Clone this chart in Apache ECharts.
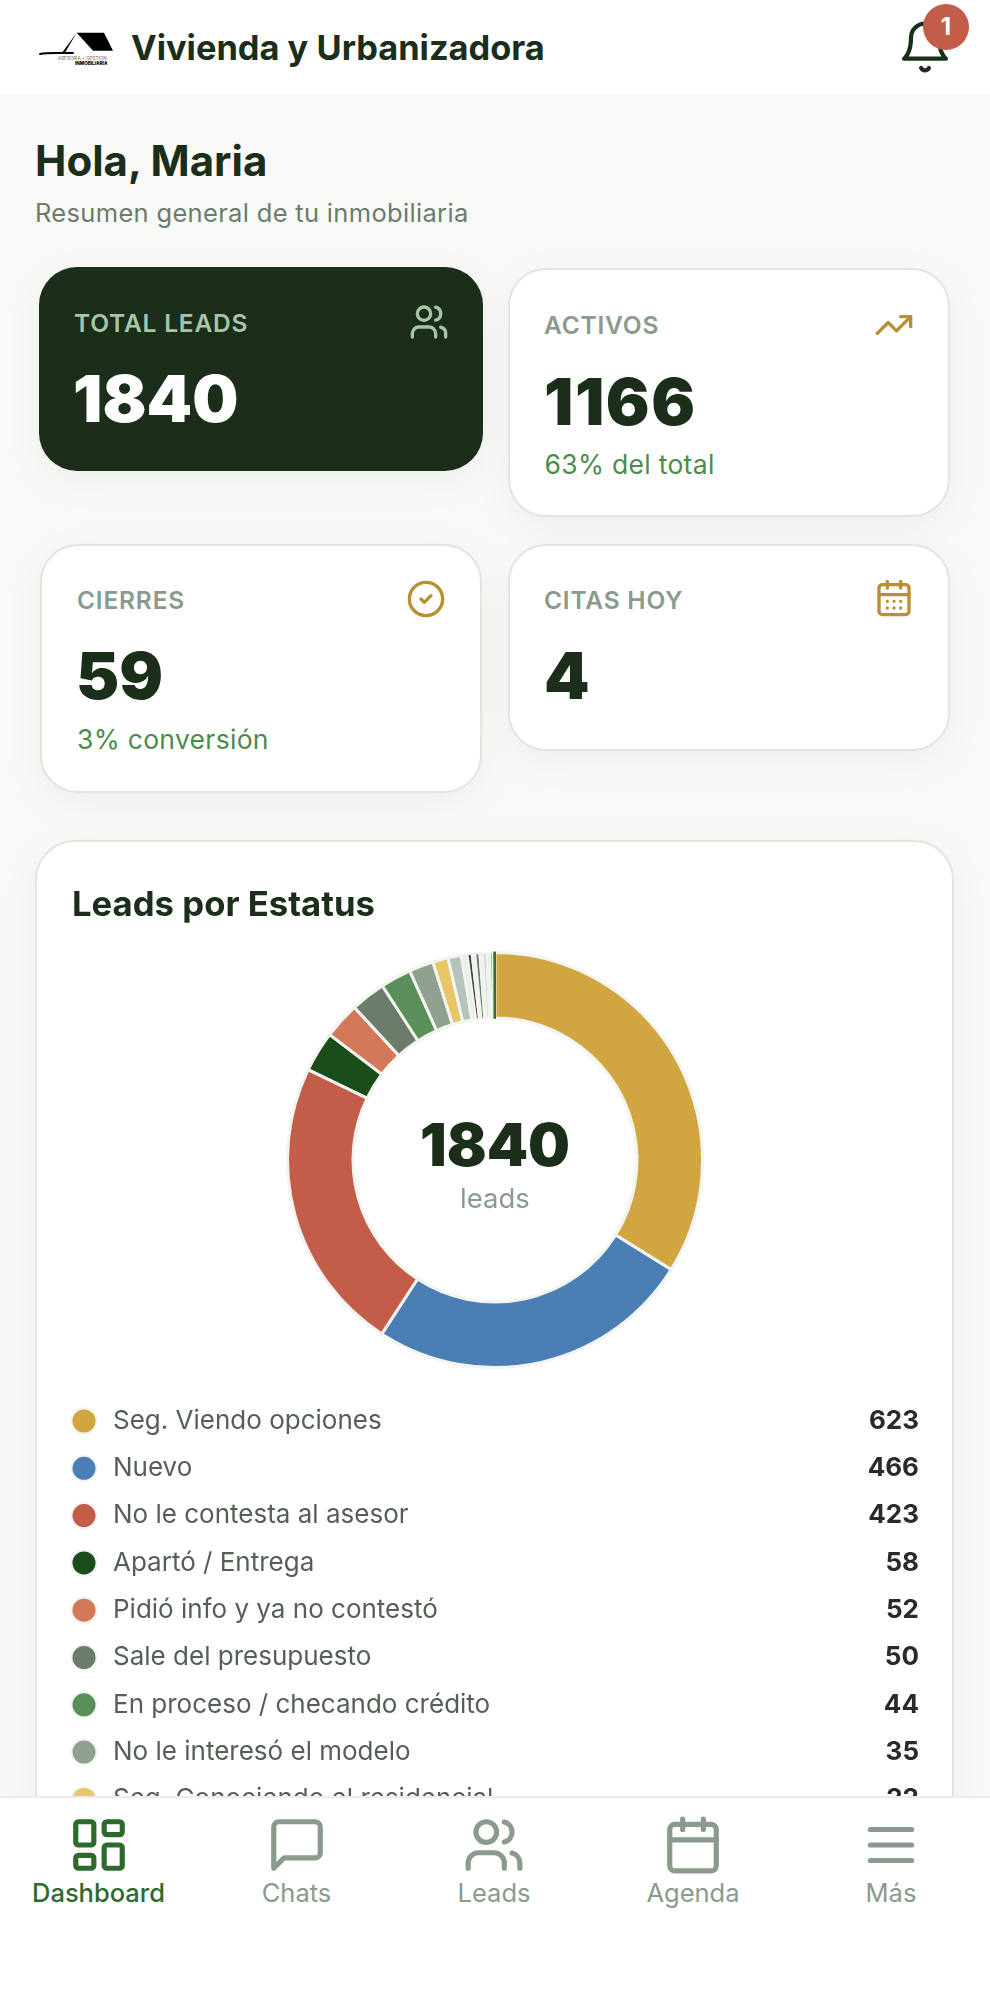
<!DOCTYPE html>
<html lang="es"><head><meta charset="utf-8">
<script src="https://cdn.jsdelivr.net/npm/echarts@6/dist/echarts.min.js"></script>
<style>
*{box-sizing:border-box}
html,body{margin:0;padding:0;width:990px;height:2000px;overflow:hidden;background:#f9f9f7;font-family:Inter,"Noto Sans",sans-serif}
.abs{position:absolute;white-space:nowrap;line-height:1}
.vc{transform:translateY(-50%)}
#head{position:absolute;left:0;top:0;width:990px;height:95px;background:#fff}
.card{position:absolute;background:#fff;border:2px solid #e3e5df;border-radius:38px;box-shadow:0 10px 40px rgba(26,46,26,.05)}
.lab{font-size:24.5px;font-weight:600;color:#8a9a8c;letter-spacing:.8px}
.num{font-size:65px;font-weight:900;color:#1a2e1a}
.sub{font-size:26.5px;color:#4a8c4a;letter-spacing:.3px}
svg{position:absolute;fill:none;stroke-linecap:round;stroke-linejoin:round;stroke-width:2}
#nav{position:absolute;left:0;top:1796px;width:990px;height:204px;background:#fff;border-top:2px solid #ececea;z-index:5}
.nl{font-size:25.5px;font-weight:400;color:#8a9a8c;transform:translate(-50%,-50%)}
#chart{position:absolute;left:38px;top:842px;width:914px;height:954px}
</style></head><body>
<div id="head"></div>
<svg style="left:0;top:0;stroke:none" width="140" height="90" viewBox="0 0 140 90">
<path d="M76.7 32.7H104L113 50.7H93Z" fill="#000"/><path d="M76.7 32.7 61.5 53.5H64.5Z" fill="#000"/>
<path d="M40 54C50 52 62 53.5 73 53" stroke="#000" stroke-width="2" fill="none"/>
<text x="58" y="60" font-size="4.6" fill="#666" style="font-family:Inter">ASESORÍA + GESTIÓN</text>
<text x="75" y="64.5" font-size="4.6" font-weight="800" fill="#000" style="font-family:Inter">INMOBILIARIA</text></svg>
<div class="abs vc" style="left:131px;top:48px;font-size:34.4px;font-weight:700;color:#1a2e1a">Vivienda y Urbanizadora</div>
<svg style="left:897px;top:19px;stroke:#1a2e1a;stroke-width:1.8" width="56" height="56" viewBox="0 0 24 24"><path d="M6 8a6 6 0 0 1 12 0c0 7 3 9 3 9H3s3-2 3-9"/><path d="M10.3 21a1.94 1.94 0 0 0 3.4 0"/></svg>
<div class="abs" style="left:923px;top:4px;width:46px;height:46px;border-radius:50%;background:#c45c4a;color:#fff;font-size:24px;font-weight:700;text-align:center;line-height:46px">1</div>

<div class="abs vc" style="left:35px;top:161px;font-size:42px;font-weight:700;color:#1a2e1a">Hola, Maria</div>
<div class="abs vc" style="left:35px;top:213px;font-size:25.5px;color:#6b7c6b;letter-spacing:.32px">Resumen general de tu inmobiliaria</div>

<div class="card" style="left:39px;top:267px;width:444px;height:204px;background:#1a2e1a;border:none"></div>
<div class="abs vc lab" style="left:74px;top:323px;color:#a8c5a8">TOTAL LEADS</div>
<div class="abs vc num" style="left:73px;top:398px;color:#fff">1840</div>
<svg style="left:409px;top:302px;stroke:#a8c5a8" width="40" height="40" viewBox="0 0 24 24"><path d="M16 21v-2a4 4 0 0 0-4-4H6a4 4 0 0 0-4 4v2"/><circle cx="9" cy="7" r="4"/><path d="M22 21v-2a4 4 0 0 0-3-3.87"/><path d="M16 3.13a4 4 0 0 1 0 7.75"/></svg>

<div class="card" style="left:508px;top:268px;width:442px;height:249px"></div>
<div class="abs vc lab" style="left:544px;top:325px">ACTIVOS</div>
<div class="abs vc num" style="left:544px;top:401px;letter-spacing:1.5px">1166</div>
<div class="abs vc sub" style="left:544.5px;top:464px">63% del total</div>
<svg style="left:874px;top:305px;stroke:#b8902f" width="40" height="40" viewBox="0 0 24 24"><polyline points="22 7 13.5 15.5 8.5 10.5 2 17"/><polyline points="16 7 22 7 22 13"/></svg>

<div class="card" style="left:40px;top:544px;width:442px;height:249px"></div>
<div class="abs vc lab" style="left:77px;top:600px">CIERRES</div>
<div class="abs vc num" style="left:76px;top:675px">59</div>
<div class="abs vc sub" style="left:77px;top:739px">3% conversión</div>
<svg style="left:406px;top:579px;stroke:#b8902f" width="40" height="40" viewBox="0 0 24 24"><circle cx="12" cy="12" r="10"/><path d="m9 12 2 2 4-4"/></svg>

<div class="card" style="left:508px;top:544px;width:442px;height:207px"></div>
<div class="abs vc lab" style="left:544px;top:600px">CITAS HOY</div>
<div class="abs vc num" style="left:544px;top:675px">4</div>
<svg style="left:874px;top:578px;stroke:#b8902f" width="40" height="40" viewBox="0 0 24 24"><rect x="3" y="4" width="18" height="18" rx="2"/><path d="M8 2v4M16 2v4M3 10h18M8 14h.01M12 14h.01M16 14h.01M8 18h.01M12 18h.01M16 18h.01"/></svg>

<div class="card" style="left:35px;top:840px;width:919px;height:1200px;border-radius:40px"></div>
<div class="abs vc" style="left:72px;top:903px;font-size:34.7px;font-weight:700;color:#1a2e1a;z-index:2">Leads por Estatus</div>
<div id="chart"></div>

<div id="nav"></div>
<svg style="left:68px;top:1814px;stroke:#2d6a2d;z-index:6" width="62" height="62" viewBox="0 0 24 24"><rect x="3" y="3" width="7" height="9" rx="1"/><rect x="14" y="3" width="7" height="5" rx="1"/><rect x="14" y="12" width="7" height="9" rx="1"/><rect x="3" y="16" width="7" height="5" rx="1"/></svg>
<svg style="left:266px;top:1814px;stroke:#8a9a8c;z-index:6" width="62" height="62" viewBox="0 0 24 24"><path d="M21 15a2 2 0 0 1-2 2H7l-4 4V5a2 2 0 0 1 2-2h14a2 2 0 0 1 2 2z"/></svg>
<svg style="left:463px;top:1814px;stroke:#8a9a8c;z-index:6" width="62" height="62" viewBox="0 0 24 24"><path d="M16 21v-2a4 4 0 0 0-4-4H6a4 4 0 0 0-4 4v2"/><circle cx="9" cy="7" r="4"/><path d="M22 21v-2a4 4 0 0 0-3-3.87"/><path d="M16 3.13a4 4 0 0 1 0 7.75"/></svg>
<svg style="left:662px;top:1814px;stroke:#8a9a8c;z-index:6" width="62" height="62" viewBox="0 0 24 24"><rect x="3" y="4" width="18" height="18" rx="2"/><path d="M16 2v4M8 2v4M3 10h18"/></svg>
<svg style="left:860px;top:1814px;stroke:#8a9a8c;z-index:6" width="62" height="62" viewBox="0 0 24 24"><path d="M4 6h16M4 12h16M4 18h16"/></svg>
<div class="abs nl" style="left:98.5px;top:1893px;z-index:6;color:#2d6a2d;font-weight:500;font-size:25.5px">Dashboard</div>
<div class="abs nl" style="left:296.5px;top:1893px;z-index:6">Chats</div>
<div class="abs nl" style="left:494px;top:1893px;z-index:6">Leads</div>
<div class="abs nl" style="left:693px;top:1893px;z-index:6">Agenda</div>
<div class="abs nl" style="left:891px;top:1893px;z-index:6">Más</div>

<script>
var statusNames=["Seg. Viendo opciones","Nuevo","No le contesta al asesor","Apartó / Entrega","Pidió info y ya no contestó","Sale del presupuesto","En proceso / checando crédito","No le interesó el modelo","Seg. Conociendo el residencial"];
var statusValues=[623,466,423,58,52,50,44,35,22];
var statusColors=["#d1a640","#4a7eb5","#c45c4a","#1a4d1a","#d4785c","#6b7c6b","#5a8f5a","#8fa08f","#e8c565"];
var otherValues=[19,9,6,5,6,5,5,5,4,2,1];
var otherColors=["#b5c4b8","#eaf0e8","#3a4a3a","#eaf0e8","#6d7d6f","#eaf0e8","#c8d3c9","#eaf0e8","#7aa87a","#eaf0e8","#3a6b2a"];
var totalLeads=1840, centerCaption="leads";

var data=statusNames.map(function(n,i){return {name:n,value:statusValues[i],itemStyle:{color:statusColors[i]}};})
 .concat(otherValues.map(function(v,i){
   var last=i===otherValues.length-1;
   return {name:"Otro "+(i+1),value:v,itemStyle:{color:otherColors[i],
     borderWidth:last?2:(i===0?3:2),borderColor:last?otherColors[i]:"#f1f4ef"}};
 }));
var chart=echarts.init(document.getElementById("chart"),null,{renderer:"canvas"});
chart.setOption({
 animation:false,
 textStyle:{fontFamily:"Inter"},
 legend:{
  data:statusNames,orient:"vertical",left:27.5,top:560.5,height:600,
  icon:"circle",itemWidth:25,itemHeight:25,itemGap:20.3,selectedMode:false,
  formatter:function(n){return "{n|"+n+"}{v|"+statusValues[statusNames.indexOf(n)]+"}";},
  textStyle:{rich:{
   n:{fontFamily:"Inter",fontSize:26,color:"#555f55",width:749,padding:[0,0,0,11.5],lineHeight:25,align:"left"},
   v:{fontFamily:"Inter",fontSize:26,fontWeight:700,color:"#2a2a2a",width:57,lineHeight:25,align:"right"}
  }}
 },
 series:[{type:"pie",center:[457,318],radius:[142,207.5],startAngle:90,clockwise:true,
  label:{show:false},labelLine:{show:false},silent:true,
  itemStyle:{borderColor:"#f1f4ef",borderWidth:3},
  data:data}],
 graphic:[
  {type:"text",left:"center",top:277,style:{text:String(totalLeads),fontFamily:"Inter",fontSize:59,fontWeight:900,fill:"#1a2e1a"}},
  {type:"text",left:"center",top:344,style:{text:centerCaption,fontFamily:"Inter",fontSize:27.5,fill:"#8a9a8c"}}
 ]
});
</script>
</body></html>
